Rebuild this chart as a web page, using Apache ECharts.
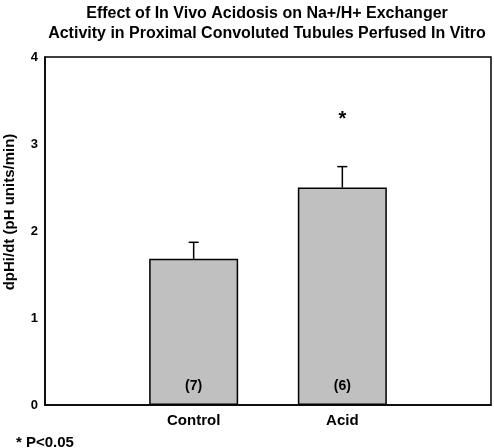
<!DOCTYPE html>
<html><head><meta charset="utf-8">
<script src="https://cdn.jsdelivr.net/npm/echarts@6/dist/echarts.min.js"></script>
<style>html,body{margin:0;padding:0;background:#fff}#c{width:494px;height:448px}</style>
</head><body><div id="c"></div>
<script>
var categories = ['', 'Control', 'Acid', ''];
var means = [null, 1.68, 2.50, null];
var sems = [null, 0.19, 0.24, null];
var nLabels = ['', '(7)', '(6)', ''];
var sigMarks = ['', '', '*', ''];
var yTicks = [0, 1, 2, 3, 4];
var titleText = 'Effect of In Vivo Acidosis on Na+/H+ Exchanger\nActivity in Proximal Convoluted Tubules Perfused In Vitro';
var yName = 'dpHi/dt (pH units/min)';
var footnote = '* P<0.05';

var FONT = 'Liberation Sans, Arial, sans-serif';
var chart = echarts.init(document.getElementById('c'), null, {renderer: 'canvas'});

var barData = [], errData = [];
categories.forEach(function (c, i) {
  if (means[i] == null) { barData.push('-'); return; }
  barData.push({value: means[i], label: {formatter: nLabels[i]}});
  errData.push([i, means[i], means[i] + sems[i], sigMarks[i]]);
});

chart.setOption({
  animation: false,
  title: {
    text: titleText, left: 262, top: -1, textAlign: 'center',
    textStyle: {fontFamily: FONT, fontWeight: 'bold', fontSize: 16, lineHeight: 20, color: '#000'}
  },
  graphic: [
    {type: 'text', x: 10, y: 212, rotation: Math.PI / 2,
     style: {text: yName, fontFamily: FONT, fontWeight: 'bold', fontSize: 15, fill: '#000', textAlign: 'center', textVerticalAlign: 'middle'}},
    {type: 'text', left: 16, top: 435,
     style: {text: footnote, fontFamily: FONT, fontWeight: 'bold', fontSize: 15, fill: '#000'}}
  ],
  grid: {left: 45, right: 1, top: 57, bottom: 43, show: true, borderColor: '#000', borderWidth: 1.5},
  xAxis: {
    type: 'category', data: categories, boundaryGap: false,
    axisLine: {lineStyle: {color: '#000', width: 1.5}},
    axisTick: {show: false},
    axisLabel: {fontFamily: FONT, fontWeight: 'bold', fontSize: 15, color: '#000', margin: 8, interval: 0},
    splitLine: {show: false}
  },
  yAxis: {
    type: 'value', min: yTicks[0], max: yTicks[yTicks.length - 1], interval: 1,
    axisLine: {show: true, lineStyle: {color: '#000', width: 1.5}},
    axisTick: {show: false},
    axisLabel: {fontFamily: FONT, fontWeight: 'bold', fontSize: 13, color: '#000', margin: 7},
    splitLine: {show: false}
  },
  series: [
    {
      type: 'bar', data: barData, barWidth: 89,
      itemStyle: {color: '#c0c0c0', borderColor: '#000', borderWidth: 1.5},
      label: {show: true, position: 'insideBottom', distance: 12,
        fontFamily: FONT, fontWeight: 'bold', fontSize: 14, color: '#000'}
    },
    {
      type: 'custom', data: errData,
      renderItem: function (params, api) {
        var x = api.value(0);
        var base = api.coord([x, api.value(1)]);
        var top = api.coord([x, api.value(2)]);
        var children = [
          {type: 'line', shape: {x1: base[0], y1: base[1], x2: top[0], y2: top[1]}, style: {stroke: '#000', lineWidth: 1.5}},
          {type: 'line', shape: {x1: top[0] - 5, y1: top[1], x2: top[0] + 5, y2: top[1]}, style: {stroke: '#000', lineWidth: 1.5}}
        ];
        var mark = errData[params.dataIndex][3];
        if (mark) {
          var p = api.coord([x, api.value(2) + 0.54]);
          children.push({type: 'text', x: p[0], y: p[1],
            style: {text: mark, fontFamily: FONT, fontWeight: 'bold', fontSize: 20, fill: '#000', textAlign: 'center', textVerticalAlign: 'middle'}});
        }
        return {type: 'group', children: children};
      },
      z: 3
    }
  ]
});
</script></body></html>
